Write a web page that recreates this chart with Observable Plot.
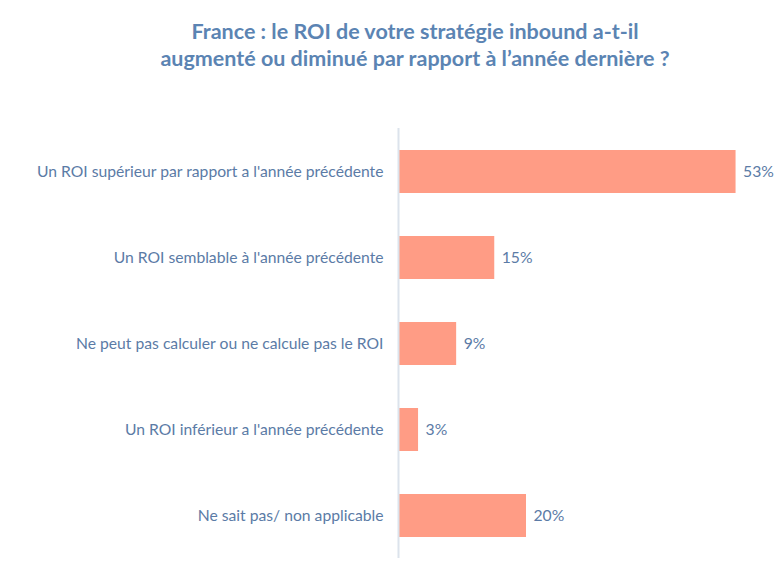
<!DOCTYPE html>
<html>
<head>
<meta charset="utf-8">
<script src="https://cdn.jsdelivr.net/npm/d3@7"></script>
<script src="https://cdn.jsdelivr.net/npm/@observablehq/plot@0.6"></script>
<style>
  html, body { margin: 0; padding: 0; background: #fff; }
  #wrap { width: 780px; height: 570px; position: relative; overflow: hidden; font-family: Lato, "Open Sans", sans-serif; }
  #title { position: absolute; left: 0; top: 18px; width: 780px; padding-left: 50px; box-sizing: border-box; text-align: center;
           color: #5b84b3; font-weight: bold; font-size: 21.5px; line-height: 27px; }
  #chart { position: absolute; left: 0; top: 110px; }
</style>
</head>
<body>
<div id="wrap">
  <div id="title">France : le ROI de votre stratégie inbound a-t-il<br>augmenté ou diminué par rapport à l’année dernière ?</div>
  <div id="chart"></div>
</div>
<script>
const categories = [
  "Un ROI supérieur par rapport a l'année précédente",
  "Un ROI semblable à l'année précédente",
  "Ne peut pas calculer ou ne calcule pas le ROI",
  "Un ROI inférieur a l'année précédente",
  "Ne sait pas/ non applicable"
];
const values = [53, 15, 9, 3, 20];
const valueLabels = ["53%", "15%", "9%", "3%", "20%"];

const data = categories.map((c, i) => ({category: c, value: values[i], label: valueLabels[i]}));

const chart = Plot.plot({
  width: 780,
  height: 460,
  marginTop: 18,
  marginBottom: 12,
  marginLeft: 399,
  marginRight: 0,
  style: {fontFamily: "Lato, 'Open Sans', sans-serif", fontSize: "15.5px", color: "#5b7ba6"},
  x: {domain: [0, 60], axis: null},
  y: {domain: categories, paddingInner: 0.5, paddingOuter: 0.25, align: 0.5, axis: null},
  marks: [
    Plot.barX(data, {y: "category", x: "value", fill: "#ff9c85"}),
    Plot.ruleX([0], {stroke: "#dce3ec", strokeWidth: 2, dx: -1}),
    Plot.text(data, {y: "category", x: 0, text: "category", textAnchor: "end", dx: -16, fill: "#5b7ba6", fontSize: 15.7}),
    Plot.text(data, {y: "category", x: "value", text: "label", textAnchor: "start", dx: 7, fill: "#5b7ba6", fontSize: 15.7})
  ]
});
document.getElementById("chart").appendChild(chart);
</script>
</body>
</html>
